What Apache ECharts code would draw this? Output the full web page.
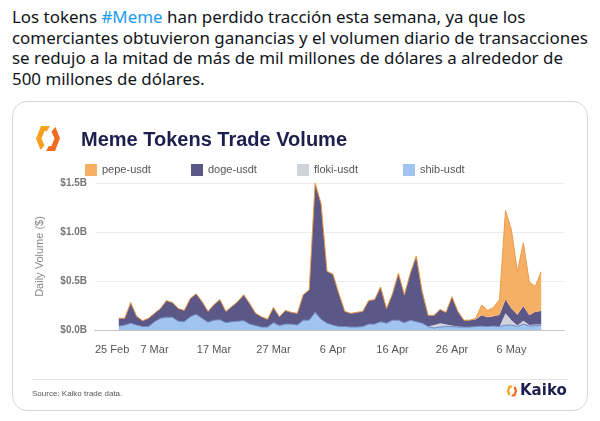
<!DOCTYPE html>
<html>
<head>
<meta charset="utf-8">
<title>Meme Tokens Trade Volume</title>
<script src="https://cdn.jsdelivr.net/npm/echarts@6/dist/echarts.min.js"></script>
<style>
  body { margin: 0; width: 600px; height: 421px; background: #fff; position: relative; overflow: hidden; }
  #tweet { position: absolute; left: 12px; top: 7px; color: #0f1419; font-family: "Noto Sans", sans-serif; white-space: nowrap; }
  #tweet a { color: #1d9bf0; text-decoration: none; }
  #card { position: absolute; left: 12px; top: 101px; width: 574px; height: 308px; border: 1px solid #cfd9de; border-radius: 15px; }
  #main { position: absolute; left: 0; top: 0; width: 600px; height: 421px; }
</style>
</head>
<body>
<div id="tweet">
  <div class="ln">Los tokens <a>#Meme</a> han perdido tracción esta semana, ya que los</div>
  <div class="ln" id="ref">comerciantes obtuvieron ganancias y el volumen diario de transacciones</div>
  <div class="ln">se redujo a la mitad de más de mil millones de dólares a alrededor de</div>
  <div class="ln">500 millones de dólares.</div>
</div>
<div id="card"></div>
<div id="main"></div>
<script type="text/javascript">
    // axis runs 25 Feb .. 14 May, data is daily from 1 Mar to 11 May 2023 (billions USD)
    var axisStart = '2023-02-25';
    var axisDays = 80;
    var firstDay = '2023-03-01';
    var tickLabels = ['25 Feb', '7 Mar', '17 Mar', '27 Mar', '6 Apr', '16 Apr', '26 Apr', '6 May'];
    var yLabels = ['$0.0B', '$0.5B', '$1.0B', '$1.5B'];
    var legendNames = ['pepe-usdt', 'doge-usdt', 'floki-usdt', 'shib-usdt'];

    var shibData = [0.04, 0.05, 0.07, 0.05, 0.035, 0.035, 0.085, 0.12, 0.13, 0.13,
        0.09, 0.085, 0.135, 0.16, 0.12, 0.08, 0.10, 0.105, 0.075, 0.085,
        0.09, 0.095, 0.06, 0.045, 0.03, 0.03, 0.075, 0.045, 0.06, 0.06,
        0.05, 0.10, 0.10, 0.18, 0.11, 0.07, 0.05, 0.035, 0.035, 0.03,
        0.03, 0.035, 0.06, 0.06, 0.085, 0.07, 0.10, 0.10, 0.075, 0.10,
        0.085, 0.07, 0.035, 0.02, 0.03, 0.035, 0.035, 0.03, 0.03, 0.03,
        0.035, 0.04, 0.035, 0.04, 0.035, 0.05, 0.05, 0.035, 0.06, 0.04,
        0.045, 0.045];
    var flokiData = [0, 0, 0, 0, 0, 0, 0, 0, 0, 0,
        0, 0, 0, 0, 0, 0, 0, 0, 0, 0,
        0, 0, 0, 0, 0, 0, 0, 0, 0, 0,
        0, 0, 0, 0, 0, 0, 0, 0, 0, 0,
        0, 0, 0, 0, 0, 0, 0, 0, 0, 0,
        0, 0, 0, 0.03, 0.04, 0.02, 0.01, 0.005, 0, 0,
        0, 0, 0, 0, 0, 0.12, 0.05, 0.01, 0.035, 0.01,
        0.01, 0.01];
    var dogeData = [0.08, 0.07, 0.21, 0.09, 0.06, 0.085, 0.085, 0.10, 0.17, 0.15,
        0.13, 0.115, 0.185, 0.21, 0.17, 0.11, 0.16, 0.205, 0.115, 0.155,
        0.20, 0.265, 0.21, 0.125, 0.105, 0.08, 0.155, 0.09, 0.14, 0.12,
        0.12, 0.26, 0.31, 1.32, 1.18, 0.53, 0.52, 0.335, 0.155, 0.14,
        0.15, 0.155, 0.24, 0.25, 0.355, 0.15, 0.27, 0.48, 0.285, 0.48,
        0.67, 0.32, 0.115, 0.10, 0.14, 0.125, 0.295, 0.155, 0.07, 0.07,
        0.075, 0.11, 0.095, 0.10, 0.12, 0.14, 0.12, 0.11, 0.15, 0.10,
        0.13, 0.14];
    var pepeData = [0, 0, 0, 0, 0, 0, 0, 0, 0, 0,
        0, 0, 0, 0, 0, 0, 0, 0, 0, 0,
        0, 0, 0, 0, 0, 0, 0, 0, 0, 0,
        0, 0, 0, 0, 0, 0, 0, 0, 0, 0,
        0, 0, 0, 0, 0, 0, 0, 0, 0, 0,
        0, 0, 0, 0, 0, 0, 0, 0, 0, 0,
        0.01, 0.105, 0.07, 0.09, 0.157, 0.91, 0.80, 0.44, 0.645, 0.34,
        0.26, 0.40];

    // fit the tweet font so the longest line fills the width it has in the screenshot
    (function () {
        var ctx = document.createElement('canvas').getContext('2d');
        ctx.font = '15px "Noto Sans"';
        var w = ctx.measureText(document.getElementById('ref').textContent).width;
        var size = 15 * 576 / w;
        var tw = document.getElementById('tweet');
        tw.style.fontSize = size.toFixed(2) + 'px';
        tw.style.lineHeight = '20.5px';
    })();

    var DAY = 86400000;
    var categories = [];
    for (var d = 0; d < axisDays; d++) {
        categories.push(echarts.time.format(Date.parse(axisStart) + d * DAY, '{yyyy}-{MM}-{dd}', true));
    }
    var offset = (Date.parse(firstDay) - Date.parse(axisStart)) / DAY;

    // place a daily series on the full category axis, '-' where there is no data
    function pad(arr) {
        var out = [];
        for (var i = 0; i < axisDays; i++) {
            var j = i - offset;
            out.push(j >= 0 && j < arr.length ? arr[j] : '-');
        }
        return out;
    }

    function logo(cx, cy, s) {
        // two orange brackets forming the Kaiko hexagon mark
        var k = s / 25;
        function p(x, y) { return [cx + x * k, cy + y * k]; }
        return [
            { type: 'polygon', shape: { points: [p(2, -12.5), p(-7, -12.5), p(-12, 0), p(-7.5, 11.5), p(-3.5, 7), p(-6.5, 0), p(-3.5, -7.5), p(-1, -7.5)] },
              style: { fill: '#f7a11e' } },
            { type: 'polygon', shape: { points: [p(-2, 12.5), p(7, 12.5), p(12, 0), p(7.5, -11.5), p(3.5, -7), p(6.5, 0), p(3.5, 7.5), p(1, 7.5)] },
              style: { fill: '#f26b21' } }
        ];
    }

    var font = 'Liberation Sans, Arial, sans-serif';
    var legendColors = ['#f5b066', '#5b5887', '#d0d4da', '#a0c4ef'];
    var legendLeft = [80, 186, 292, 398];
    var legends = legendNames.map(function (n, i) {
        return {
            data: [n], left: legendLeft[i], top: 159, icon: 'rect',
            itemWidth: 12, itemHeight: 12, itemGap: 5, selectedMode: false,
            textStyle: { fontFamily: font, fontSize: 11, color: '#555' }
        };
    });

    var myChart = echarts.init(document.getElementById('main'));

    var option = {
        backgroundColor: 'transparent',
        animation: false,
        title: {
            text: 'Meme Tokens Trade Volume',
            left: 76,
            top: 125,
            textStyle: { fontFamily: font, fontWeight: 'bold', fontSize: 20, color: '#1c1f4e' }
        },
        legend: legends,
        grid: { left: 95, right: 35, top: 183, bottom: 91 },
        xAxis: {
            type: 'category',
            data: categories,
            boundaryGap: false,
            axisLine: { show: true, lineStyle: { color: '#bbb', type: 'dotted' } },
            axisTick: { show: false },
            splitLine: { show: false },
            axisLabel: {
                interval: 9,
                margin: 14,
                fontFamily: font,
                fontSize: 11,
                color: '#555',
                alignMinLabel: 'left',
                formatter: function (v, idx) { return tickLabels[idx / 10] || ''; }
            }
        },
        yAxis: {
            type: 'value',
            min: 0,
            max: 1.5,
            interval: 0.5,
            name: 'Daily Volume ($)',
            nameLocation: 'middle',
            nameGap: 50,
            nameTextStyle: { fontFamily: font, fontSize: 11, color: '#8a8a8a' },
            axisLine: { show: false },
            axisTick: { show: false },
            splitLine: { lineStyle: { color: '#eeeeee' } },
            axisLabel: {
                margin: 8,
                fontFamily: font,
                fontSize: 10,
                fontWeight: 'bold',
                color: '#777',
                formatter: function (v) { return yLabels[Math.round(v / 0.5)]; }
            }
        },
        series: [
            {
                name: 'shib-usdt', type: 'line', stack: 'total', showSymbol: false,
                data: pad(shibData), color: legendColors[3],
                lineStyle: { width: 1, color: '#7088c2' }, areaStyle: { color: legendColors[3], opacity: 1 }
            },
            {
                name: 'floki-usdt', type: 'line', stack: 'total', showSymbol: false,
                data: pad(flokiData), color: legendColors[2],
                lineStyle: { width: 0 }, areaStyle: { color: legendColors[2], opacity: 1 }
            },
            {
                name: 'doge-usdt', type: 'line', stack: 'total', showSymbol: false,
                data: pad(dogeData), color: legendColors[1],
                lineStyle: { width: 0 }, areaStyle: { color: legendColors[1], opacity: 1 }
            },
            {
                name: 'pepe-usdt', type: 'line', stack: 'total', showSymbol: false,
                data: pad(pepeData), color: legendColors[0],
                lineStyle: { width: 1, color: '#eb9a48' }, areaStyle: { color: legendColors[0], opacity: 1 }
            }
        ],
        graphic: logo(48, 138.5, 25).concat(logo(512, 391, 11)).concat([
            { type: 'rect', shape: { x: 32, y: 379, width: 536, height: 1 }, style: { fill: '#dfe4e9' } },
            { type: 'text', x: 32, y: 394, style: { text: 'Source: Kaiko trade data.', font: '8px ' + font, fill: '#555', verticalAlign: 'middle' } },
            { type: 'text', x: 520, y: 391.5, style: { text: 'Kaiko', font: 'bold 15px "DejaVu Sans", sans-serif', fill: '#1c1f4e', verticalAlign: 'middle' } }
        ])
    };

    myChart.setOption(option);
</script>
</body>
</html>
